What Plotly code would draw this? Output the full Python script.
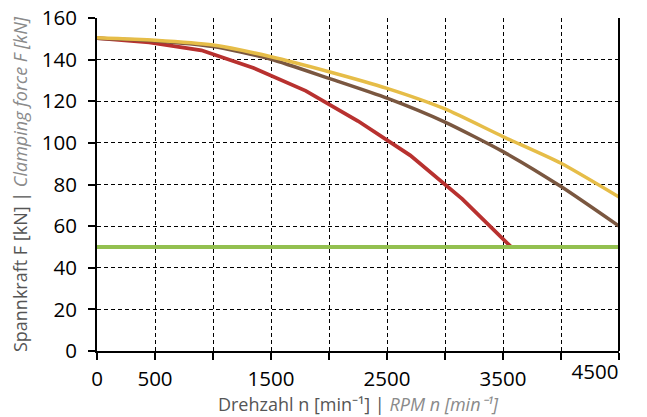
import plotly.graph_objects as go

rpm_red = [0, 450, 900, 1350, 1800, 2250, 2700, 3150, 3570]
force_red = [150.3, 148.3, 144.5, 136, 125, 110.5, 94, 73, 50]

rpm_curves = [0, 500, 1000, 1500, 2000, 2500, 3000, 3500, 4000, 4500]
force_brown = [150.3, 149, 146.3, 140.2, 131, 121.5, 110, 95.8, 79, 60]
force_yellow = [150.5, 149.3, 147, 141.4, 134.2, 126.2, 116.3, 103, 90.2, 74]

rpm_limit = [0, 4500]
force_limit = [50, 50]

x_tickvals = [0, 500, 1000, 1500, 2000, 2500, 3000, 3500, 4000, 4500]
x_ticktext = ["0", "500", "", "1500", "", "2500", "", "3500", "", ""]
x_end_tickvals = [4500]
x_end_ticktext = ["4500"]
y_tickvals = [0, 20, 40, 60, 80, 100, 120, 140, 160]

fig = go.Figure()
fig.add_trace(go.Scatter(x=rpm_limit, y=force_limit, mode="lines", xaxis="x2",
                         line=dict(color="#93C050", width=4), hoverinfo="skip"))
fig.add_trace(go.Scatter(x=rpm_red, y=force_red, mode="lines",
                         line=dict(color="#B8312F", width=3.8), hoverinfo="skip"))
fig.add_trace(go.Scatter(x=rpm_curves, y=force_brown, mode="lines",
                         line=dict(color="#7A5740", width=3.5, shape="spline", smoothing=0.6), hoverinfo="skip"))
fig.add_trace(go.Scatter(x=rpm_curves, y=force_yellow, mode="lines",
                         line=dict(color="#E6BD48", width=3.5, shape="spline", smoothing=0.6), hoverinfo="skip"))

TICKFONT = dict(family="Open Sans", size=20.5, color="#000000")

axis_common = dict(
    showgrid=True, gridcolor="#000000", gridwidth=1, griddash="4px,3px",
    showline=True, linecolor="#000000", linewidth=2,
    ticks="outside", ticklen=7, tickwidth=2, tickcolor="#000000",
    zeroline=False, automargin=False, ticklabeloverflow="allow",
    tickfont=TICKFONT,
)

# page body has an 8px margin, so shift figure margins accordingly
fig.update_layout(
    width=647, height=417,
    margin=dict(l=89, r=36, t=10, b=74),
    paper_bgcolor="white", plot_bgcolor="white",
    showlegend=False,
    xaxis=dict(range=[0, 4500], tickvals=x_tickvals, ticktext=x_ticktext,
               ticklabelstandoff=1,
               title=dict(text="<span style='color:#555555'>Drehzahl n [min⁻¹] | </span><span style='color:#8a8a8a'><i>RPM n [min⁻¹]</i></span>",
                          font=dict(family="Open Sans", size=18), standoff=3),
               **axis_common),
    xaxis2=dict(range=[0, 4500], overlaying="x", anchor="y", side="bottom",
                tickvals=x_end_tickvals, ticktext=x_end_ticktext,
                showgrid=False, showline=False, zeroline=False, automargin=False,
                ticklabeloverflow="allow",
                ticks="", ticklabelshift=-24, ticklabelstandoff=6,
                tickfont=TICKFONT),
    yaxis=dict(range=[0, 160], tickvals=y_tickvals, ticklabelstandoff=7,
               title=dict(text="<span style='color:#555555'>Spannkraft F [kN] | </span><span style='color:#8a8a8a'><i>Clamping force F [kN]</i></span>",
                          font=dict(family="Open Sans", size=18), standoff=10),
               **axis_common),
)

fig.add_shape(type="line", xref="paper", yref="paper", x0=1, x1=1, y0=0, y1=1,
              line=dict(color="#000000", width=2))

fig.write_html("out.html")
